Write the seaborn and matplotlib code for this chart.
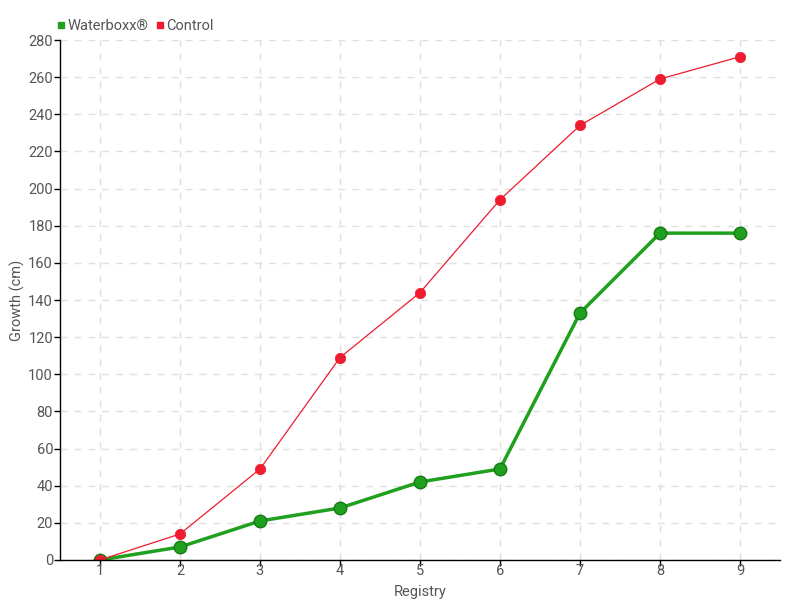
import pandas as pd
import numpy as np
import matplotlib.pyplot as plt
import seaborn as sns
from matplotlib.lines import Line2D

registry = [1, 2, 3, 4, 5, 6, 7, 8, 9]
waterboxx = [0, 7, 21, 28, 42, 49, 133, 176, 176]
control = [0, 14, 49, 109, 144, 194, 234, 259, 271]

sns.set_style("white")
plt.rcParams['font.family'] = ['Roboto', 'DejaVu Sans']

fig = plt.figure(figsize=(8, 6), dpi=100)
ax = fig.add_axes([0.075, 0.0667, 0.9, 0.8666])

green = "#1fa01f"
red = "#ee1c2e"

sns.lineplot(x=registry, y=waterboxx, ax=ax, color=green, linewidth=2.5,
             marker="o", markersize=9, markeredgecolor="#157a15", markeredgewidth=1)
sns.lineplot(x=registry, y=control, ax=ax, color=red, linewidth=0.9,
             marker="o", markersize=7.5, markeredgecolor=red, markeredgewidth=0.5)

ax.set_xlim(0.5, 9.5)
ax.set_ylim(0, 280)
ax.set_xticks(registry)
ax.set_yticks(np.arange(0, 281, 20))
ax.grid(True, linestyle=(0, (5, 5)), color="#e0e0e0", linewidth=1)
ax.set_axisbelow(True)

for s in ["top", "right"]:
    ax.spines[s].set_visible(False)
for s in ["left", "bottom"]:
    ax.spines[s].set_color("black")
    ax.spines[s].set_linewidth(1)

ax.tick_params(axis="both", direction="out", length=4, width=1, color="black",
               labelsize=10.5, labelcolor="#555555", bottom=True, left=True)
ax.tick_params(axis="x", pad=-1)
ax.tick_params(axis="y", pad=1)
ax.set_xlabel("Registry", fontsize=10.5, color="#555555")
ax.set_ylabel("Growth (cm)", fontsize=10.5, color="#555555")
ax.xaxis.set_label_coords(0.5, -0.048)
ax.yaxis.set_label_coords(-0.048, 0.5)

handles = [Line2D([], [], marker="s", linestyle="none", color=green, markersize=5),
           Line2D([], [], marker="s", linestyle="none", color=red, markersize=5)]
fig.legend(handles, ["Waterboxx®", "Control"], loc="upper left",
           bbox_to_anchor=(0.053, 0.99), ncol=2, frameon=False, fontsize=10.5,
           handletextpad=0.0, columnspacing=0.4, labelcolor="#555555",
           handlelength=0.8)

fig.savefig("out.png", dpi=100)
